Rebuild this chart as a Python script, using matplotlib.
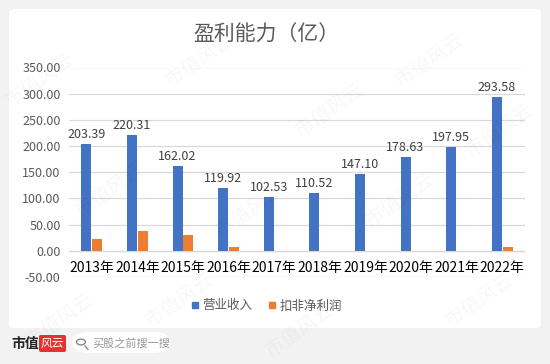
import matplotlib.pyplot as plt
from matplotlib.patches import FancyBboxPatch, Circle
from matplotlib.lines import Line2D

plt.rcParams['font.family'] = ['Noto Sans CJK SC', 'DejaVu Sans']

years = ["2013年", "2014年", "2015年", "2016年", "2017年",
         "2018年", "2019年", "2020年", "2021年", "2022年"]
revenue = [203.39, 220.31, 162.02, 119.92, 102.53,
           110.52, 147.10, 178.63, 197.95, 293.58]
net_profit = [23.0, 38.3, 30.0, 6.4, 0.2, -1.0, -0.8, 0.3, 0.2, 7.6]
yticks = [-50, 0, 50, 100, 150, 200, 250, 300, 350]

BLUE = "#4472c4"
ORANGE = "#ed7d31"
GREY_TXT = "#595959"

fig = plt.figure(figsize=(5.5, 3.64), dpi=100)
fig.patch.set_facecolor("#f2f2f2")

# white card
card = FancyBboxPatch((9 / 550, 1 - 328 / 364), 532 / 550, 319 / 364,
                      boxstyle="round,pad=0,rounding_size=0.01",
                      transform=fig.transFigure, facecolor="white",
                      edgecolor="none", zorder=-5)
fig.patches.append(card)

ax = fig.add_axes([69 / 550, 1 - 277 / 364, 456 / 550, 209.5 / 364])
ax.set_facecolor("none")
ax.set_zorder(2)

x = list(range(len(years)))
w = 0.22
ax.bar([i - 0.12 for i in x], revenue, width=w, color=BLUE, zorder=3)
ax.bar([i + 0.12 for i in x], net_profit, width=w, color=ORANGE, zorder=3)

for i, v in enumerate(revenue):
    ax.text(i - 0.12, v + 6, f"{v:.2f}", ha="center", va="bottom",
            fontsize=9, color="#404040")

ax.set_xlim(-0.5, len(years) - 0.5)
ax.set_ylim(-50, 350)
ax.set_yticks(yticks)
ax.set_yticklabels([f"{t:.2f}" for t in yticks], fontsize=9, color=GREY_TXT)
ax.yaxis.grid(True, color="#d9d9d9", linewidth=0.9, zorder=0)
ax.tick_params(axis="y", length=0, pad=6)

ax.set_xticks(x)
ax.set_xticklabels(years, fontsize=8.5, color=GREY_TXT)
ax.spines["bottom"].set_position(("data", 0))
ax.tick_params(axis="x", length=0, pad=7)
for s in ax.spines.values():
    s.set_visible(False)
ax.axhline(0, color="#d9d9d9", linewidth=0.9, zorder=2)

fig.text(266 / 550, 1 - 35 / 364, "盈利能力（亿）", ha="center", va="center",
         fontsize=15, color=GREY_TXT)

# legend
handles = [Line2D([], [], marker="s", linestyle="none", color=BLUE, markersize=4.5),
           Line2D([], [], marker="s", linestyle="none", color=ORANGE, markersize=4.5)]
fig.legend(handles, ["营业收入", "扣非净利润"], loc="center",
           bbox_to_anchor=(266 / 550, 1 - 306 / 364), ncol=2, frameon=False,
           fontsize=9, labelcolor=GREY_TXT, handletextpad=0.2,
           columnspacing=1.2, handlelength=0.8)

# watermark
for wx, wy in [(40, 80), (200, 60), (330, 110), (430, 60), (110, 190),
               (250, 210), (400, 200), (500, 130), (60, 320), (300, 330),
               (480, 300), (180, 300)]:
    fig.text(wx / 550, 1 - wy / 364, "市值风云", rotation=35, fontsize=14,
             color="#000000", alpha=0.03, ha="center", va="center", zorder=5)

# footer
fig.text(11 / 550, 1 - 344 / 364, "市值", fontsize=10, fontweight="bold",
         color="#222222", va="center", ha="left")
logo = FancyBboxPatch((39 / 550, 1 - 352 / 364), 27 / 550, 17 / 364,
                      boxstyle="round,pad=0,rounding_size=0.004",
                      transform=fig.transFigure, facecolor="#e8322f",
                      edgecolor="none")
fig.patches.append(logo)
fig.text(52.5 / 550, 1 - 343.5 / 364, "风云", fontsize=8.5, style="italic",
         color="white", ha="center", va="center")
search = FancyBboxPatch((72 / 550, 1 - 353 / 364), 98 / 550, 21 / 364,
                        boxstyle="round,pad=0,rounding_size=0.03",
                        transform=fig.transFigure, facecolor="white",
                        edgecolor="none")
fig.patches.append(search)
fig.patches.append(Circle((81 / 550, 1 - 342 / 364), 0.008,
                          transform=fig.transFigure, facecolor="none",
                          edgecolor="#888888", linewidth=1))
fig.lines.append(Line2D([85 / 550, 88 / 550], [1 - 346 / 364, 1 - 349.5 / 364],
                        transform=fig.transFigure, color="#888888", linewidth=1))
fig.text(92 / 550, 1 - 343 / 364, "买股之前搜一搜", fontsize=8,
         color="#999999", va="center", ha="left")

fig.savefig("out.png", dpi=100, facecolor=fig.get_facecolor())
